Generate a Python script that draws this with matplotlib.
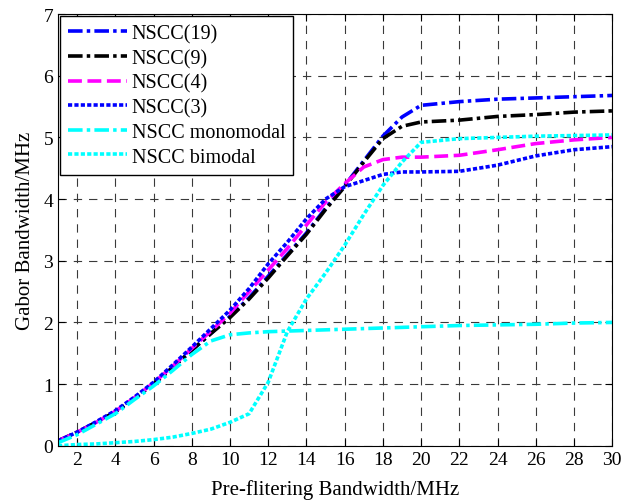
import numpy as np
import matplotlib.pyplot as plt

plt.rcParams['font.family'] = ['Liberation Serif', 'DejaVu Serif']
plt.rcParams['lines.scale_dashes'] = False

# pre-filtering bandwidth (MHz)
x = [1, 2, 3, 4, 5, 6, 7, 8, 9, 10, 11, 12, 13, 14, 15, 16, 17, 18, 19, 20, 22, 24, 26, 28, 30]

nscc19 = [0.08, 0.22, 0.38, 0.55, 0.77, 1.0, 1.27, 1.55, 1.82, 2.1, 2.4, 2.75, 3.1, 3.45, 3.85,
          4.22, 4.62, 5.02, 5.33, 5.52, 5.58, 5.62, 5.64, 5.66, 5.68]
nscc9 = [0.08, 0.22, 0.38, 0.55, 0.77, 1.0, 1.27, 1.55, 1.82, 2.08, 2.38, 2.72, 3.08, 3.43, 3.83,
         4.2, 4.6, 4.98, 5.18, 5.25, 5.28, 5.34, 5.37, 5.41, 5.43]
nscc4 = [0.08, 0.22, 0.38, 0.56, 0.78, 1.02, 1.29, 1.58, 1.86, 2.15, 2.5, 2.85, 3.2, 3.58, 3.95,
         4.25, 4.52, 4.64, 4.68, 4.68, 4.71, 4.8, 4.9, 4.96, 5.0]
nscc3 = [0.08, 0.22, 0.39, 0.57, 0.79, 1.03, 1.31, 1.6, 1.9, 2.2, 2.55, 2.95, 3.3, 3.68, 4.0,
         4.2, 4.3, 4.4, 4.44, 4.44, 4.45, 4.55, 4.7, 4.8, 4.85]
mono = [0.05, 0.18, 0.35, 0.52, 0.75, 0.97, 1.22, 1.48, 1.7, 1.8, 1.83, 1.85, 1.86, 1.87, 1.88,
        1.89, 1.9, 1.91, 1.92, 1.93, 1.95, 1.96, 1.97, 1.99, 2.0]
bimodal = [0.0, 0.02, 0.03, 0.05, 0.07, 0.1, 0.14, 0.2, 0.27, 0.38, 0.52, 1.03, 1.85, 2.38, 2.8,
           3.25, 3.75, 4.22, 4.6, 4.92, 4.98, 5.0, 5.02, 5.03, 5.04]

# dash patterns in points
dashdot = (0, (10.5, 3, 2.5, 3))
dashed = (0, (10, 4))
dotted = (0, (3, 1.6))

fig = plt.figure(figsize=(6.24, 5.02), dpi=100)
ax = fig.add_axes([0.093, 0.11, 0.888, 0.86])

lw = 2.6
ax.plot(x, nscc19, color='#0000ff', linestyle=dashdot, lw=lw, label='NSCC(19)')
ax.plot(x, nscc9, color='black', linestyle=dashdot, lw=lw, label='NSCC(9)')
ax.plot(x, nscc4, color='#ff00ff', linestyle=dashed, lw=lw, label='NSCC(4)')
ax.plot(x, nscc3, color='#0000ff', linestyle=dotted, lw=lw, label='NSCC(3)')
ax.plot(x, mono, color='#00ffff', linestyle=dashdot, lw=lw, label='NSCC monomodal')
ax.plot(x, bimodal, color='#00ffff', linestyle=dotted, lw=lw, label='NSCC bimodal')

ax.set_xlim(1, 30)
ax.set_ylim(0, 7)
ax.set_xticks(np.arange(2, 31, 2))
ax.set_yticks(np.arange(0, 8, 1))
ax.tick_params(direction='in', labelsize=14, length=5, top=True, right=True)
ax.grid(True, color='#3a3a3a', linestyle=(0, (6, 5)), linewidth=0.8)

ax.set_xlabel('Pre-flitering Bandwidth/MHz', fontsize=15, labelpad=8)
ax.set_ylabel('Gabor Bandwidth/MHz', fontsize=15, labelpad=6)

leg = ax.legend(loc='upper left', fontsize=14.5, handlelength=2.9, fancybox=False,
                framealpha=1, edgecolor='black', borderaxespad=0.1,
                labelspacing=0.27, handletextpad=0.25, borderpad=0.4)
leg.get_frame().set_linewidth(1.0)

fig.savefig('out.png', dpi=100)
